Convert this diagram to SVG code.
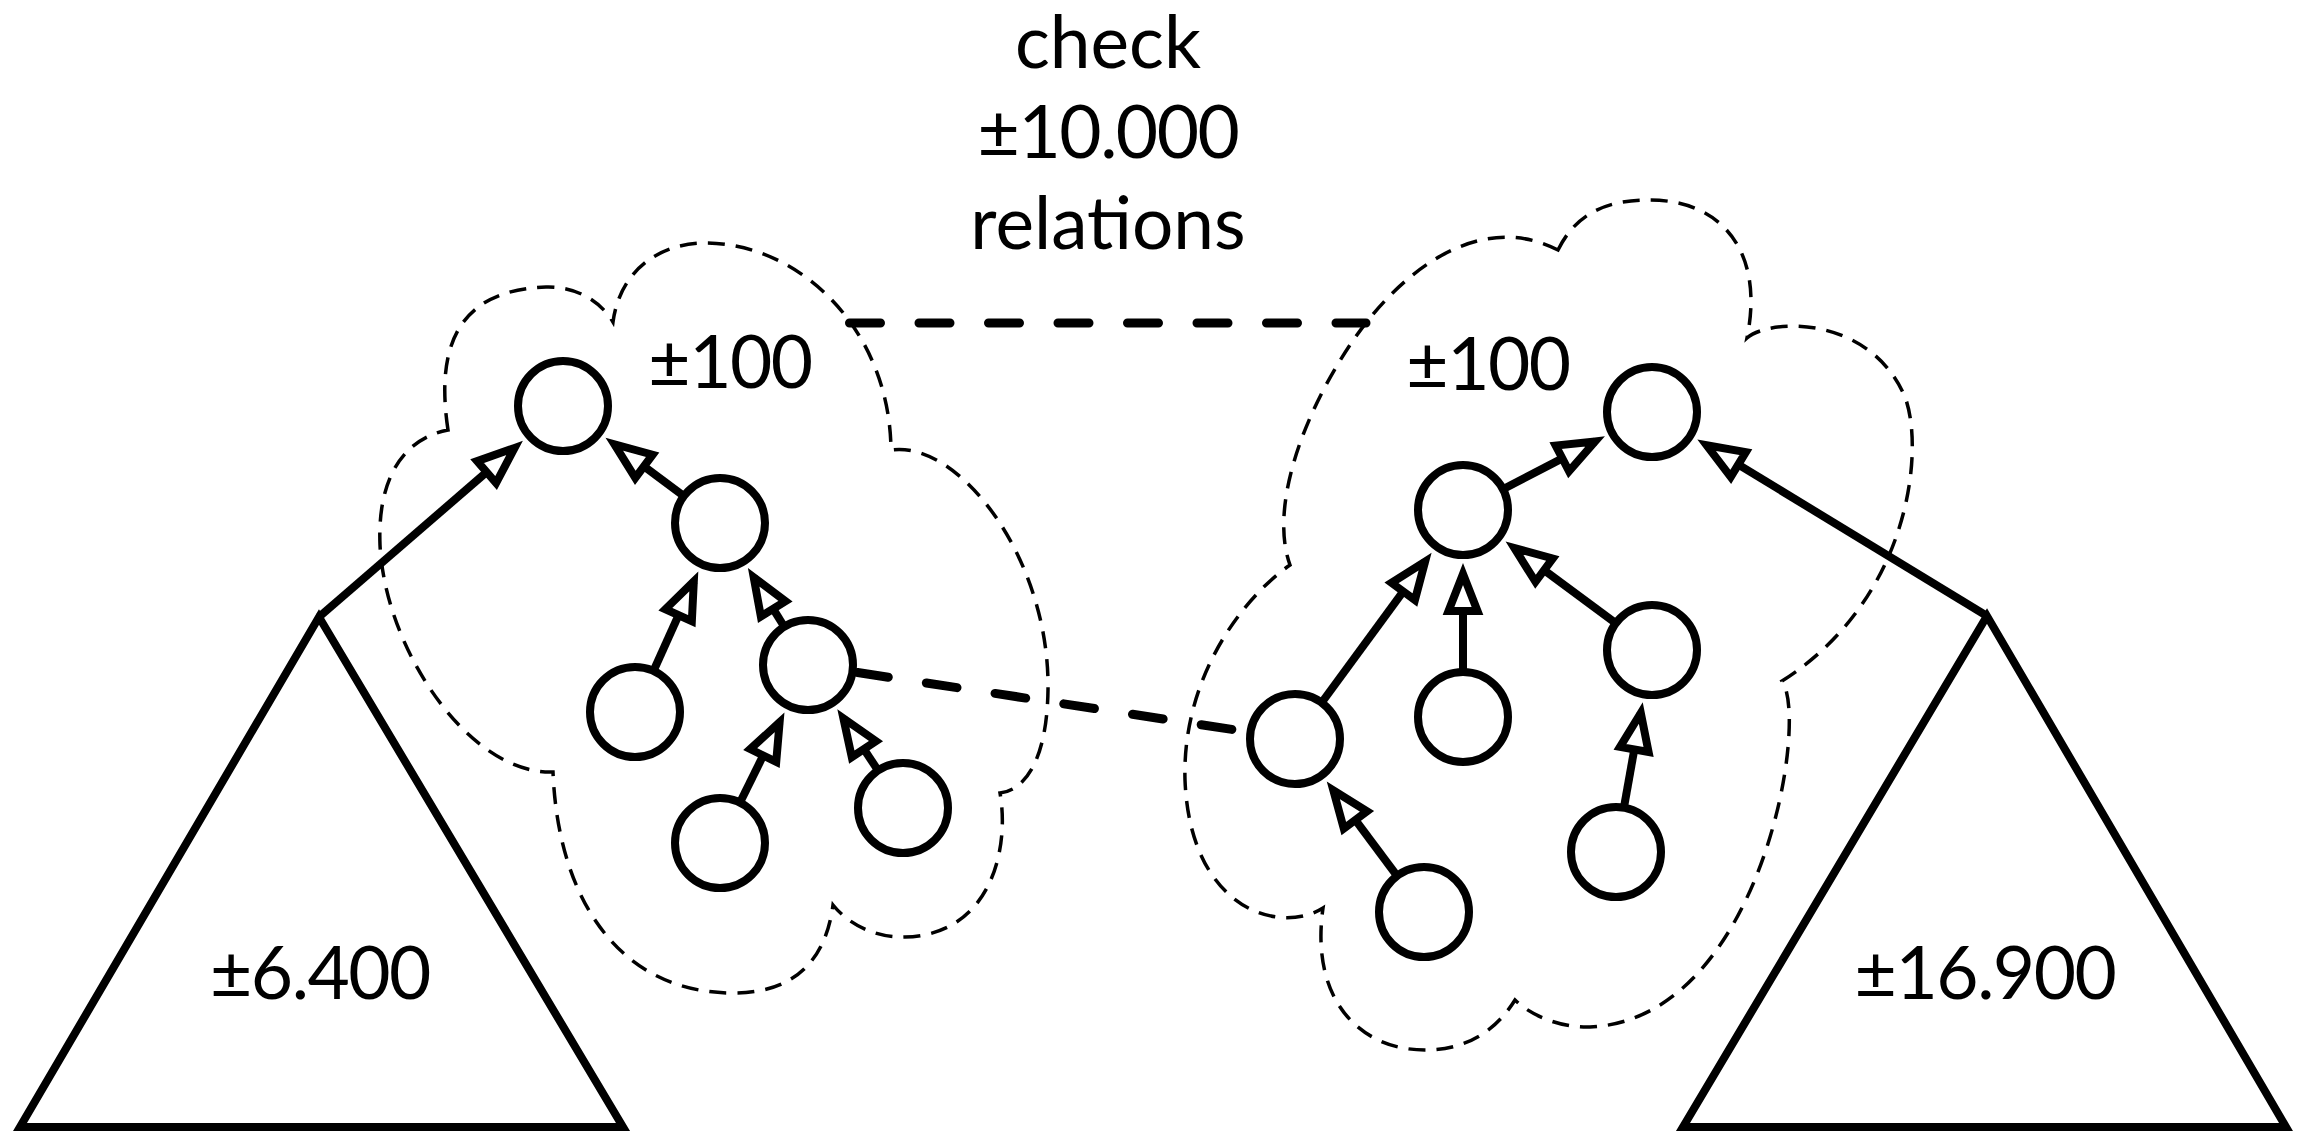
<svg xmlns="http://www.w3.org/2000/svg" width="2298" height="1132" viewBox="0 0 2298 1132">
  <defs>
    <style>
      .cloud { fill: none; stroke: #000; stroke-width: 3.5; stroke-dasharray: 17 11; }
      .edge { fill: none; stroke: #000; stroke-width: 8; marker-end: url(#tri); }
      .rel { fill: none; stroke: #000; stroke-width: 9; stroke-linecap: round; stroke-dasharray: 31 38.5; }
      .node circle { fill: #fff; stroke: #000; stroke-width: 8; }
      .tree polygon { fill: none; stroke: #000; stroke-width: 8; stroke-linejoin: miter; }
      text { font-family: Lato, "Open Sans", "Liberation Sans", sans-serif; font-size: 73px; fill: #000; text-anchor: middle; }
      .num { letter-spacing: -1.5px; }
    </style>
    <!-- hollow triangular arrowhead, tip at the path end -->
    <marker id="tri" markerUnits="userSpaceOnUse" markerWidth="80" markerHeight="80" refX="0" refY="0" orient="auto" overflow="visible">
      <path d="M0,0 L-37,-14.5 L-37,14.5 Z" fill="#fff" stroke="#000" stroke-width="8" stroke-linejoin="miter"/>
    </marker>
  </defs>

  <rect width="2298" height="1132" fill="#fff"/>

  <!-- title -->
  <g id="title">
    <text x="1108" y="68">check</text>
    <text class="num" x="1108" y="158">±10.000</text>
    <text x="1108" y="249">relations</text>
  </g>

  <!-- cluster outlines -->
  <g id="cloud-left">
    <path class="cloud" d="M448,430 C436,350 455,290 546,287 C580,286 603,305 613,322
      C620,270 660,243 705,243 C800,243 890,330 891,450
      C960,440 1050,560 1048,690 C1047,760 1025,790 1000,793
      C1010,850 990,935 905,937 C870,938 845,920 833,905
      C825,965 790,993 733,993 C620,993 558,900 553,772
      C470,775 385,650 380,545 C377,470 410,437 448,430 Z"/>
    <text class="num" x="730" y="388">±100</text>
  </g>
  <g id="cloud-right">
    <path class="cloud" d="M1558,250 C1580,205 1620,200 1650,200 C1720,200 1765,250 1747,338
      C1770,318 1870,315 1905,397 C1925,450 1910,600 1782,681
      C1810,720 1760,1020 1590,1027 C1560,1028 1530,1015 1515,1000
      C1490,1040 1455,1050 1425,1050 C1360,1050 1310,1000 1323,908
      C1280,935 1190,910 1185,780 C1182,680 1240,600 1290,565
      C1270,510 1300,420 1350,345 C1400,270 1480,210 1558,250 Z"/>
    <text class="num" x="1488" y="390">±100</text>
  </g>

  <!-- connectors -->
  <g id="connectors">
    <path class="rel" d="M849.5,323 H1366"/>
    <path class="rel" d="M808,665 L1295,739" stroke-dashoffset="19.3"/>
    <!-- left tree -->
    <path class="edge" d="M319,617 L514.6,447.9"/>
    <path class="edge" d="M720,523 L614.3,444.2"/>
    <path class="edge" d="M635,712 L693.8,581.4"/>
    <path class="edge" d="M808,665 L753.7,577.4"/>
    <path class="edge" d="M720,843 L779.6,722.3"/>
    <path class="edge" d="M903,808 L843.4,718.3"/>
    <!-- right tree -->
    <path class="edge" d="M1987,616 L1706.7,445.3"/>
    <path class="edge" d="M1463,510 L1595.2,441.4"/>
    <path class="edge" d="M1295,739 L1425.1,561.6"/>
    <path class="edge" d="M1463,717 L1463,574"/>
    <path class="edge" d="M1652,650 L1514.4,548.1"/>
    <path class="edge" d="M1616,852 L1640.8,713"/>
    <path class="edge" d="M1424,912 L1333.3,790.3"/>
  </g>

  <!-- subtrees -->
  <g id="subtree-left" class="tree">
    <polygon points="319,617 20,1127 623,1127"/>
    <text class="num" x="320" y="999">±6.400</text>
  </g>
  <g id="subtree-right" class="tree">
    <polygon points="1987,616 1683,1127 2286,1127"/>
    <text class="num" x="1985" y="999">±16.900</text>
  </g>

  <!-- left cluster nodes -->
  <g id="node-a" class="node"><circle cx="563" cy="406" r="45"/></g>
  <g id="node-b" class="node"><circle cx="720" cy="523" r="45"/></g>
  <g id="node-c" class="node"><circle cx="635" cy="712" r="45"/></g>
  <g id="node-d" class="node"><circle cx="808" cy="665" r="45"/></g>
  <g id="node-e" class="node"><circle cx="720" cy="843" r="45"/></g>
  <g id="node-f" class="node"><circle cx="903" cy="808" r="45"/></g>

  <!-- right cluster nodes -->
  <g id="node-g" class="node"><circle cx="1652" cy="412" r="45"/></g>
  <g id="node-h" class="node"><circle cx="1463" cy="510" r="45"/></g>
  <g id="node-i" class="node"><circle cx="1652" cy="650" r="45"/></g>
  <g id="node-j" class="node"><circle cx="1295" cy="739" r="45"/></g>
  <g id="node-k" class="node"><circle cx="1463" cy="717" r="45"/></g>
  <g id="node-l" class="node"><circle cx="1616" cy="852" r="45"/></g>
  <g id="node-m" class="node"><circle cx="1424" cy="912" r="45"/></g>
</svg>
